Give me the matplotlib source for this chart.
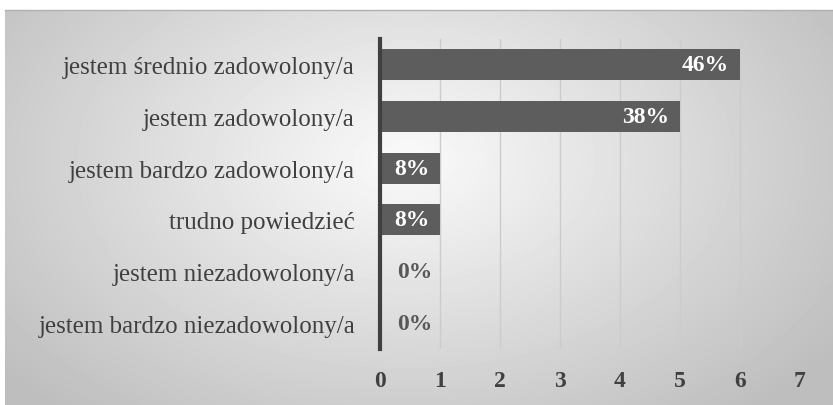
import numpy as np
import matplotlib
matplotlib.use('agg')
import matplotlib.pyplot as plt

# data (top to bottom as in the chart)
categories = ["jestem średnio zadowolony/a", "jestem zadowolony/a",
              "jestem bardzo zadowolony/a", "trudno powiedzieć",
              "jestem niezadowolony/a", "jestem bardzo niezadowolony/a"]
counts = [6, 5, 1, 1, 0, 0]
pct_labels = ["46%", "38%", "8%", "8%", "0%", "0%"]
xticks = [0, 1, 2, 3, 4, 5, 6, 7]

W, H = 833, 406
fig = plt.figure(figsize=(W / 100, H / 100), dpi=100)
fig.patch.set_facecolor('white')

# gradient background panel
bg = fig.add_axes([5 / W, 0, (W - 5) / W, (H - 11) / H])
yy, xx = np.mgrid[0:395, 0:828]
d = np.sqrt(((xx - 400) / 520.0) ** 2 + ((yy - 150) / 330.0) ** 2)
g = np.clip(250 - 60 * d, 190, 250) / 255.0
bg.imshow(g, cmap='gray', vmin=0, vmax=1, aspect='auto', interpolation='bilinear')
bg.set_axis_off()
fig.add_artist(plt.Line2D([5 / W, 1], [(H - 11) / H, (H - 11) / H], color='#b0b0b0', lw=1))

ax = fig.add_axes([380 / W, 56 / H, 420 / W, 310 / H])
ax.patch.set_alpha(0)
y = np.arange(len(categories))
ax.barh(y, counts, height=0.6, color='#5d5d5d', zorder=3)
ax.set_ylim(len(categories) - 0.5, -0.5)
ax.set_xlim(0, 7)
ax.set_xticks(xticks)
ax.grid(axis='x', color='#cccccc', lw=1, zorder=0)
for s in ['top', 'right', 'bottom']:
    ax.spines[s].set_visible(False)
ax.spines['left'].set_color('#404040')
ax.spines['left'].set_linewidth(3)
ax.spines['left'].set_zorder(4)

serif = ['Liberation Serif', 'DejaVu Serif']
ax.set_yticks(y)
ax.set_yticklabels(categories, fontsize=18, family=serif, color='#404040')
ax.tick_params(axis='y', length=0, pad=18)
ax.tick_params(axis='x', length=0, pad=15)
for t in ax.get_xticklabels():
    t.set_fontsize(17)
    t.set_family(serif)
    t.set_fontweight('bold')
    t.set_color('#404040')

for i, (v, lab) in enumerate(zip(counts, pct_labels)):
    if v > 0:
        ax.text(v - 0.18, i, lab, ha='right', va='center', fontsize=17,
                family=serif, fontweight='bold', color='white', zorder=5)
    else:
        ax.text(0.87, i, lab, ha='right', va='center', fontsize=17,
                family=serif, fontweight='bold', color='#595959', zorder=5)

fig.savefig('out.png', dpi=100)
